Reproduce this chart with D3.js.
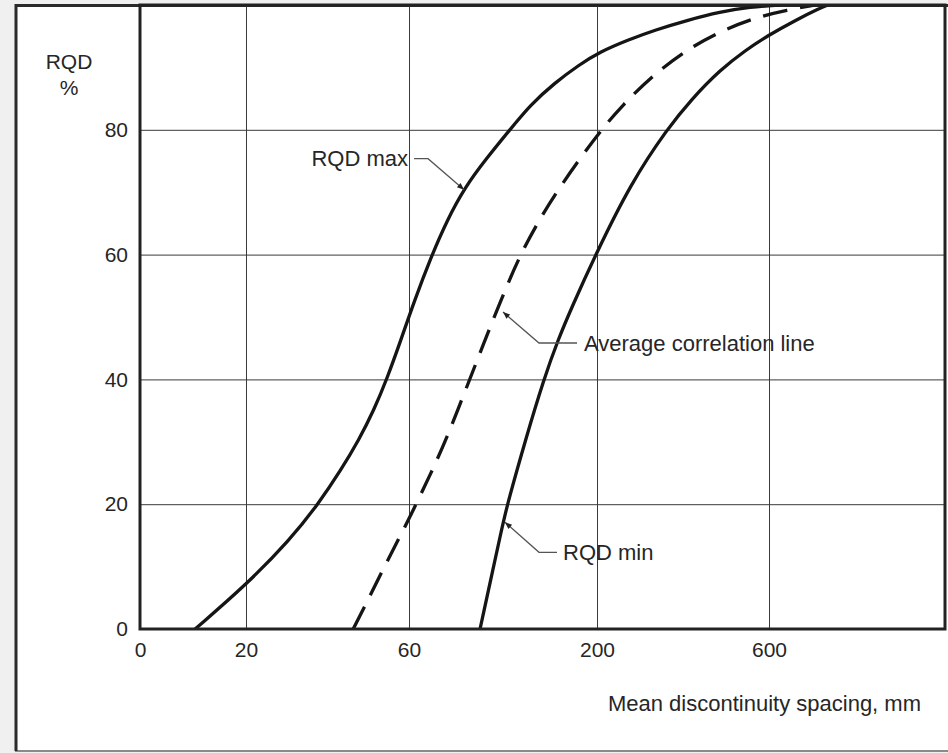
<!DOCTYPE html>
<html>
<head>
<meta charset="utf-8">
<script src="https://cdn.jsdelivr.net/npm/d3@7"></script>
<style>
  body { margin: 0; background: #f0f0f0; }
  svg { display: block; }
  text { font-family: "Liberation Sans", Arial, sans-serif; fill: #262626; }
</style>
</head>
<body>
<div id="chart"></div>
<script>
// x tick labels (mm) and y tick labels (%)
var xTicks = [0, 20, 60, 200, 600];
var yTicks = [0, 20, 40, 60, 80];

// RQD max curve
var maxSpacing = [10.4, 20, 30.8, 37.7, 43.3, 47.7, 51.4, 54.6, 58, 64.2, 76.4, 88.3, 101.7, 116.9, 135.1, 150.4, 168.4, 186.6, 207, 272, 335, 412, 486, 556, 675];
var maxRqd     = [0, 7.05, 14.3, 20, 25.5, 30.3, 35.1, 40.1, 46.3, 52.7, 59.6, 65.5, 70.8, 75.2, 80, 84, 87.5, 90.4, 92.5, 94.4, 96, 97.6, 98.9, 99.7, 100];

// average correlation line
var avgSpacing = [46.3, 49.9, 54.8, 60.7, 76.4, 87.6, 105.4, 116.6, 128.5, 141.9, 156.8, 171, 190.3, 214, 256, 326, 407, 493, 574, 723, 914];
var avgRqd     = [0, 4.6, 11.1, 17.9, 25, 30.3, 40.1, 46.3, 52.7, 59.6, 65.5, 70.4, 76.3, 80.3, 83.7, 88.5, 92.8, 96, 98.1, 99.2, 100];

// RQD min curve
var minSpacing = [112.9, 130, 133.3, 146.7, 160.5, 170.9, 181.3, 198.5, 279, 365, 418.6, 486, 546.5, 595, 784, 948, 1002];
var minRqd     = [0, 17, 20, 30.3, 40.1, 46.3, 51.6, 59.8, 71.5, 80.3, 84.8, 89.6, 92.8, 95, 97.6, 99.5, 100];

// labels: text, point on the curve it points to
var noteText    = ["RQD max", "Average correlation line", "RQD min"];
var noteSpacing = [101, 130, 131.5];
var noteRqd     = [70.4, 50.8, 17.1];

var width = 948, height = 753;
var mLeft = 140, mTop = 5, mRight = 945, mBottom = 629;
var w = mRight - mLeft, h = mBottom - mTop;

var svg = d3.select("#chart").append("svg")
    .attr("width", width)
    .attr("height", height);

// outer frame
svg.append("rect")
    .attr("x", 15)
    .attr("y", 5)
    .attr("width", 940)
    .attr("height", 746)
    .style("fill", "white")
    .style("stroke", "none");
svg.append("line").attr("x1", 15).attr("x2", 948).attr("y1", 751).attr("y2", 751)
    .style("stroke", "#8a8a8a").style("stroke-width", 2);
svg.append("line").attr("x1", 16).attr("x2", 16).attr("y1", 4).attr("y2", 751)
    .style("stroke", "#2b2b2b").style("stroke-width", 3);
svg.append("line").attr("x1", 15).attr("x2", 948).attr("y1", 5.5).attr("y2", 5.5)
    .style("stroke", "#2b2b2b").style("stroke-width", 3);

var g = svg.append("g")
    .attr("transform", "translate(" + mLeft + "," + mTop + ")");

// spacing axis is drawn with stretched segments between labels
var x = d3.scaleLinear()
    .domain([0, 20, 60, 200, 600, 1800])
    .range([0, 106, 269, 457, 629, w]);

var y = d3.scaleLinear()
    .domain([0, 100])
    .range([h, 0]);

var xAxis = g.append("g")
    .attr("transform", "translate(0," + h + ")")
    .call(d3.axisBottom(x).tickValues(xTicks).tickSize(-h).tickPadding(13)
      .tickFormat(function(d) { return d; }));
xAxis.select(".domain").remove();

var yAxis = g.append("g")
    .call(d3.axisLeft(y).tickValues(yTicks).tickSize(-w).tickPadding(12)
      .tickFormat(function(d) { return d; }));
yAxis.select(".domain").remove();

g.selectAll(".tick line")
    .style("stroke", "#3a3a3a")
    .style("stroke-width", 1);
g.selectAll(".tick text")
    .attr("font-size", 21)
    .style("font-family", "'Liberation Sans', Arial, sans-serif")
    .style("fill", "#262626");

// curves
var line = d3.line()
    .x(function(d) { return x(d[0]); })
    .y(function(d) { return y(d[1]); })
    .curve(d3.curveBasis);

var curves = [
  { pts: d3.zip(maxSpacing, maxRqd), dash: null },
  { pts: d3.zip(avgSpacing, avgRqd), dash: "25,13" },
  { pts: d3.zip(minSpacing, minRqd), dash: null }
];

g.append("clipPath").attr("id", "plotclip")
  .append("rect").attr("width", w).attr("height", h);

g.selectAll(".curve").data(curves).enter()
  .append("path")
  .attr("class", "curve")
  .attr("clip-path", "url(#plotclip)")
  .attr("d", function(d) { return line(d.pts); })
  .style("fill", "none")
  .style("stroke", "#151515")
  .style("stroke-width", 3.3)
  .style("stroke-dasharray", function(d) { return d.dash; });

// plot border
g.append("rect")
    .attr("x", 0)
    .attr("y", 0)
    .attr("width", w)
    .attr("height", h)
    .style("fill", "none")
    .style("stroke", "#222")
    .style("stroke-width", 3);

// arrow marker
svg.append("defs").append("marker")
    .attr("id", "arrow")
    .attr("viewBox", "0 0 10 10")
    .attr("refX", 10)
    .attr("refY", 5)
    .attr("markerWidth", 9)
    .attr("markerHeight", 7)
    .attr("markerUnits", "userSpaceOnUse")
    .attr("orient", "auto")
  .append("path")
    .attr("d", "M0,1L10,5L0,9Z")
    .style("fill", "#222");

// leader lines: elbow offset and end offset from the tip, in px
var noteElbow = [[-36, -31], [36, 31], [34, 30]];
var noteEnd   = [-50, 74, 52];
var noteGap   = [-6, 7, 6];

var notes = g.selectAll(".note").data(noteText).enter()
  .append("g")
  .attr("class", "note");

notes.append("path")
  .attr("d", function(d, i) {
      var tx = x(noteSpacing[i]), ty = y(noteRqd[i]);
      var ex = tx + noteElbow[i][0], ey = ty + noteElbow[i][1];
      return "M" + (tx + noteEnd[i]) + "," + ey + "L" + ex + "," + ey + "L" + tx + "," + ty;
  })
  .style("fill", "none")
  .style("stroke", "#555")
  .style("stroke-width", 1.3)
  .attr("marker-end", "url(#arrow)");

notes.append("text")
  .attr("x", function(d, i) { return x(noteSpacing[i]) + noteEnd[i] + noteGap[i]; })
  .attr("y", function(d, i) { return y(noteRqd[i]) + noteElbow[i][1]; })
  .attr("text-anchor", function(d, i) { return noteEnd[i] < 0 ? "end" : "start"; })
  .attr("dominant-baseline", "central")
  .attr("font-size", 22)
  .text(function(d) { return d; });

// axis titles
svg.append("text")
    .attr("x", 69)
    .attr("y", 61)
    .attr("text-anchor", "middle")
    .attr("dominant-baseline", "central")
    .attr("font-size", 21)
    .text("RQD");
svg.append("text")
    .attr("x", 69)
    .attr("y", 87)
    .attr("text-anchor", "middle")
    .attr("dominant-baseline", "central")
    .attr("font-size", 21)
    .text("%");
svg.append("text")
    .attr("x", 921)
    .attr("y", 703)
    .attr("text-anchor", "end")
    .attr("dominant-baseline", "central")
    .attr("font-size", 22)
    .text("Mean discontinuity spacing, mm");
</script>
</body>
</html>
